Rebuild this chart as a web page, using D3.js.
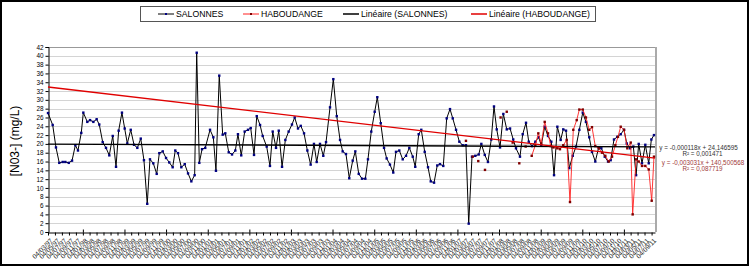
<!DOCTYPE html>
<html><head><meta charset="utf-8">
<script src="https://cdn.jsdelivr.net/npm/d3@7"></script>
<style>body{margin:0;background:#fff}svg{display:block;font-family:"Liberation Sans",Arial,sans-serif}</style>
</head><body><svg id="c" width="750" height="267"></svg>
<script>
// Dates are Excel serial day numbers (as used by the trendline equations)
const salonnesDates = [35493,35534,35563,35592,35622,35645,35675,35704,35733,35756,35785,35803,35838,35862,35891,35920,35943,35973,36002,36031,36061,36090,36113,36142,36166,36189,36219,36248,36277,36307,36335,36364,36388,36417,36447,36470,36500,36529,36557,36587,36610,36634,36663,36693,36722,36751,36780,36798,36821,36845,36873,36915,36944,36967,36996,37026,37049,37079,37108,37137,37160,37189,37219,37248,37272,37301,37325,37354,37377,37412,37441,37465,37494,37518,37547,37576,37605,37634,37658,37687,37711,37740,37769,37798,37827,37851,37880,37909,37933,37968,37997,38027,38056,38079,38108,38137,38167,38190,38220,38249,38278,38301,38330,38360,38383,38413,38442,38465,38494,38523,38547,38576,38606,38635,38664,38694,38716,38746,38769,38799,38828,38852,38881,38909,38933,38962,38992,39021,39045,39074,39103,39132,39161,39185,39214,39243,39273,39296,39326,39354,39383,39407,39431,39460,39489,39519,39548,39576,39600,39635,39659,39688,39712,39741,39770,39799,39822,39852,39881,39910,39934,39963,39992,40015,40039,40068,40098,40127,40156,40186,40214,40243,40267,40296,40326,40349,40379,40408,40431,40460,40489,40519,40548,40572,40601,40630,40654,40677,40706,40735,40765,40788,40811];
const salonnesValues = [27.0,24.3,19.2,15.7,15.9,15.9,15.7,16.2,19.7,18.5,22.5,27.1,25.0,25.4,25.0,25.6,24.4,20.4,19.1,17.4,21.8,14.8,23.0,27.1,23.5,20.1,23.2,19.8,19.1,21.2,16.3,6.4,16.5,15.6,13.2,17.9,18.3,16.8,15.8,14.7,18.5,17.9,14.7,15.4,13.3,11.5,12.9,40.7,15.7,18.8,19.1,23.2,21.5,13.9,35.5,22.1,22.4,18.1,17.6,18.5,22.2,17.4,22.8,23.2,23.6,17.5,26.3,24.3,21.8,19.4,15.0,22.8,19.1,23.0,14.8,20.9,22.8,24.4,26.0,23.5,24.1,22.4,18.5,15.3,20.0,15.9,20.0,17.3,20.4,28.3,34.7,26.3,20.9,18.3,17.7,12.2,16.2,18.3,13.2,12.1,12.1,16.5,22.8,27.3,30.6,24.7,19.1,16.7,15.3,13.5,18.2,18.5,16.5,17.3,19.1,17.1,14.8,22.2,23.2,18.2,14.7,11.5,11.2,15.1,15.4,15.0,25.8,27.9,25.8,23.2,20.5,19.7,19.7,1.9,17.1,17.3,17.6,20.0,17.5,15.9,21.0,28.5,23.3,19.2,26.8,23.3,23.5,21.0,19.0,17.1,22.2,24.8,20.5,19.5,20.5,21.5,19.7,23.9,21.8,20.5,12.9,23.9,20.9,23.3,23.0,14.5,17.3,19.4,23.2,27.1,25.0,21.5,18.2,16.0,19.2,19.0,17.1,16.0,16.3,21.0,21.6,22.2,23.2,20.1,19.0,19.4,12.9,20.0,15.6,19.8,15.6,21.0,22.0];
const haboudangeDates = [39161,39190,39220,39245,39269,39300,39328,39400,39465,39490,39519,39545,39571,39600,39629,39660,39685,39710,39738,39770,39796,39822,39852,39881,39905,39928,39963,39986,40015,40045,40074,40103,40133,40156,40186,40214,40243,40267,40296,40326,40355,40384,40414,40443,40472,40495,40519,40548,40577,40607,40624,40654,40677,40706,40735,40765,40791,40811];
const haboudangeValues = [20.7,null,17.1,null,16.1,null,14.1,null,26.0,null,27.3,null,20.3,null,15.6,null,19.4,null,17.3,19.7,22.4,20.1,25.0,22.4,19.5,19.2,19.0,18.8,19.7,20.9,6.8,23.2,25.4,27.8,27.8,26.0,23.2,23.8,19.5,19.0,18.0,17.3,16.0,17.1,19.7,21.6,23.9,23.2,19.0,20.3,4.0,16.5,16.0,15.0,15.0,14.2,7.1,17.1];
// Linear trendlines as printed on the chart: y = slope*x + intercept
const trendSalonnes = [-0.000118, 24.146595];
const trendHaboudange = [-0.003031, 140.500568];
const trendLabels = ["y = -0,000118x + 24,146595", "R² = 0,001471", "y = -0,003031x + 140,500568", "R² = 0,087719"];
const legendLabels = ["SALONNES", "HABOUDANGE", "Linéaire (SALONNES)", "Linéaire (HABOUDANGE)"];
const yTicks = [0,2,4,6,8,10,12,14,16,18,20,22,24,26,28,30,32,34,36,38,40,42];
const xDomain = [35493, 40820]; // 04/03/97 .. 04/10/11
const xTickFirst = [1997, 2, 4]; const xTickStepMonths = 2;
const yTitle = "[N03-] (mg/L)";

const EXCEL0 = Date.UTC(1899, 11, 30);
const toSerial = d => Math.round((d - EXCEL0) / 86400000);
const toDate = s => new Date(EXCEL0 + s * 86400000);
const fmt = d3.utcFormat("%d/%m/%y");

const tickSerials = [];
for (let i = 0; ; i++) {
  const s = toSerial(Date.UTC(xTickFirst[0], xTickFirst[1] + xTickStepMonths * i, xTickFirst[2]));
  if (s > xDomain[1]) break;
  tickSerials.push(s);
}

const svg = d3.select("#c");
const L = 48, R = 655, T = 47, B = 232;
const x = d3.scaleLinear().domain(xDomain).range([L, R]);
const y = d3.scaleLinear().domain([0, 42]).range([B, T]);

// outer frame
svg.append("rect").attr("x", 1).attr("y", 1).attr("width", 747).attr("height", 264)
  .attr("fill", "#fff").attr("stroke", "#000").attr("stroke-width", 2);

// gridlines
svg.append("g").selectAll("line").data(yTicks.filter(v => v > 0)).join("line")
  .attr("x1", L).attr("x2", R).attr("y1", d => Math.round(y(d)) + 0.5).attr("y2", d => Math.round(y(d)) + 0.5)
  .attr("stroke", "#d4d4d4").attr("stroke-width", 1);
// plot border top/right
svg.append("line").attr("x1", L).attr("x2", R + 1).attr("y1", T + 0.5).attr("y2", T + 0.5).attr("stroke", "#999");
svg.append("line").attr("x1", R + 1).attr("x2", R + 1).attr("y1", T).attr("y2", B).attr("stroke", "#aaa").attr("stroke-width", 2);

// axes
const yAxis = svg.append("g").attr("transform", `translate(${L + 0.5},0)`)
  .call(d3.axisLeft(y).tickValues(yTicks).tickSize(3).tickPadding(2).tickFormat(d3.format("d")));
yAxis.selectAll("text").attr("font-size", 6.4).attr("fill", "#000").attr("font-family", "Liberation Sans, Arial, sans-serif");
yAxis.selectAll("line,path").attr("stroke", "#000");

const xAxis = svg.append("g").attr("transform", `translate(0,${B + 0.5})`)
  .call(d3.axisBottom(x).tickValues(tickSerials).tickSize(3).tickSizeOuter(0).tickFormat(s => fmt(toDate(s))));
xAxis.selectAll("line,path").attr("stroke", "#000");
xAxis.selectAll(".tick").filter(s => toDate(s).getUTCMonth() === 0)
  .append("line").attr("y1", -3).attr("y2", 0).attr("stroke", "#000");
xAxis.selectAll("text").attr("font-size", 6.6).attr("fill", "#222")
  .attr("font-family", "Liberation Sans, Arial, sans-serif")
  .attr("text-anchor", "end").attr("x", 0).attr("y", 0).attr("dy", "0.35em")
  .attr("transform", "translate(3,7) rotate(-45)");

// series
const lineGen = d3.line().defined(d => d[1] != null).x(d => x(d[0])).y(d => y(d[1]));
const sal = salonnesDates.map((d, i) => [d, salonnesValues[i]]);
const hab = haboudangeDates.map((d, i) => [d, haboudangeValues[i]]);

svg.append("path").datum(sal).attr("d", lineGen).attr("fill", "none").attr("stroke", "#000").attr("stroke-width", 1);
svg.append("g").selectAll("rect").data(sal).join("rect")
  .attr("x", d => x(d[0]) - 1.2).attr("y", d => y(d[1]) - 1.2).attr("width", 2.4).attr("height", 2.4).attr("fill", "#000080");

svg.append("path").datum(hab).attr("d", lineGen).attr("fill", "none").attr("stroke", "#ff2020").attr("stroke-width", 0.9);
svg.append("g").selectAll("rect").data(hab.filter(d => d[1] != null)).join("rect")
  .attr("x", d => x(d[0]) - 1.2).attr("y", d => y(d[1]) - 1.2).attr("width", 2.4).attr("height", 2.4).attr("fill", "#800000");

// trendlines
function trend(c, color) {
  const pts = xDomain.map(s => [s, c[0] * s + c[1]]);
  svg.append("path").datum(pts).attr("d", d3.line().x(d => x(d[0])).y(d => y(d[1])))
    .attr("fill", "none").attr("stroke", color).attr("stroke-width", 1.4);
}
trend(trendSalonnes, "#000");
trend(trendHaboudange, "#e00000");

// equation labels
const eq = svg.append("g").attr("font-size", 6.3).attr("text-anchor", "middle");
[[698.5, 150, "#333"], [702.5, 155.5, "#333"], [703, 164.5, "#a03a3a"], [702.5, 170.5, "#a03a3a"]].forEach((p, i) => {
  eq.append("text").attr("x", p[0]).attr("y", p[1]).attr("fill", p[2]).text(trendLabels[i]);
});

// y title
svg.append("text").attr("transform", "translate(19,141) rotate(-90)").attr("text-anchor", "middle")
  .attr("font-size", 12).attr("fill", "#000").text(yTitle);

// legend
const lg = svg.append("g");
lg.append("rect").attr("x", 140.5).attr("y", 6.5).attr("width", 455).attr("height", 15)
  .attr("fill", "#fff").attr("stroke", "#555");
const items = [
  {x: 158, c: "#000", m: "#000080", w: 1},
  {x: 243, c: "#ff2020", m: "#800000", w: 1},
  {x: 343, c: "#000", m: null, w: 1.5},
  {x: 471, c: "#e00000", m: null, w: 1.5}
];
items.forEach((it, i) => {
  lg.append("line").attr("x1", it.x).attr("x2", it.x + 16).attr("y1", 14).attr("y2", 14)
    .attr("stroke", it.c).attr("stroke-width", it.w);
  if (it.m) lg.append("rect").attr("x", it.x + 7).attr("y", 13).attr("width", 2).attr("height", 2).attr("fill", it.m);
  lg.append("text").attr("x", it.x + 18).attr("y", 17).attr("font-size", 8.7).attr("fill", "#000").text(legendLabels[i]);
});
</script></body></html>
